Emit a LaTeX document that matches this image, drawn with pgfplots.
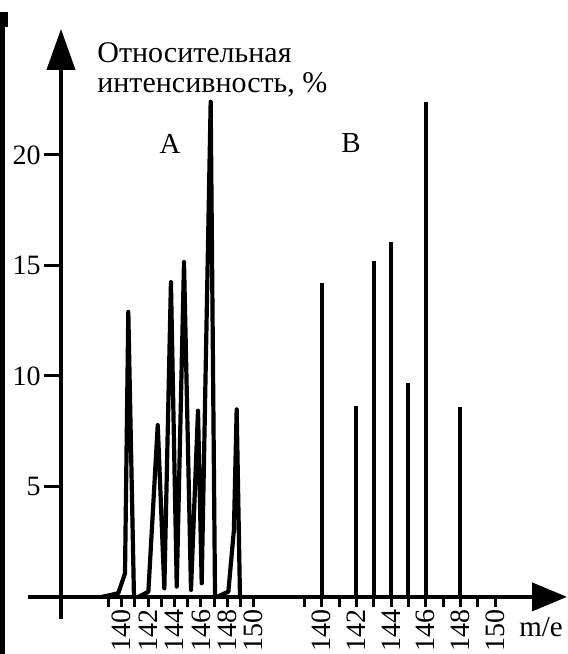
\documentclass[border=0pt]{standalone}
\usepackage{fontspec}
\setmainfont{Liberation Serif}
\usepackage{pgfplots}
\pgfplotsset{compat=1.18}
\usetikzlibrary{arrows.meta}
\begin{document}
\begin{tikzpicture}
\useasboundingbox (0,0) rectangle (284pt,327pt);
% scanned page edge
\fill[black] (0,0) rectangle (2.5pt,321pt);
\fill[black] (0,313.5pt) rectangle (4pt,321pt);
% frame axis: x in pixel units, y in percent
\begin{axis}[
  at={(30.5pt,17.5pt)}, anchor=south west,
  x=0.5pt, y=11.05pt,
  xmin=61, xmax=567, ymin=-1, ymax=25.7,
  axis x line=middle, axis y line=left,
  axis line style={line width=2pt, black},
  x axis line style={shorten <=-16.5pt, -{Triangle[length=17.5pt,width=14pt]}},
  y axis line style={-{Triangle[length=20.5pt,width=14pt]}},
  xtick=\empty,
  ytick={5,10,15,20},
  tick align=outside,
  major tick length=8.5pt,
  tick style={line width=1.5pt, black},
  yticklabel style={font=\fontsize{14}{15}\selectfont, inner sep=1.5pt},
  /pgf/number format/assume math mode=true,
  clip=false,
]
\node[anchor=base west, inner sep=0pt, font=\fontsize{15}{16}\selectfont] at (axis cs:97,24.16) {Относительная};
\node[anchor=base west, inner sep=0pt, font=\fontsize{15}{16}\selectfont] at (axis cs:97,22.81) {интенсивность, \%};
\node[inner sep=0pt, font=\fontsize{14.5}{15}\selectfont] at (axis cs:170,20.5) {A};
\node[inner sep=0pt, font=\fontsize{14.5}{15}\selectfont] at (axis cs:351,20.52) {B};
\node[anchor=base, inner sep=0pt, font=\fontsize{14.5}{15}\selectfont] at (axis cs:541,-1.81) {m/e};
\end{axis}
% spectrum A
\begin{axis}[
  at={(47.65pt,28.5pt)}, anchor=south west,
  x=6.6pt, y=11.05pt,
  xmin=138, xmax=150, ymin=0, ymax=25,
  axis x line=bottom, axis y line=none,
  x axis line style={draw=none},
  xtick={140,142,...,150}, minor xtick={139,141,...,149},
  tick align=outside, major tick length=5pt, minor tick length=5pt,
  tick style={line width=1.5pt, black},
  xticklabel style={rotate=90, anchor=east, font=\fontsize{14}{15}\selectfont, inner sep=1pt},
  /pgf/number format/assume math mode=true,
  /pgf/number format/1000 sep={},
  clip=false,
]
\addplot[black, line width=2.1pt, line join=round, no marks] coordinates {
  (138.48,0) (139.74,0.17) (140.25,1.07) (140.5,12.9) (140.93,0)};
\addplot[black, line width=2.1pt, line join=round, no marks] coordinates {
  (141.26,0) (142.02,0.24) (142.73,7.78) (143.23,0.39) (143.73,14.25)
  (144.17,0.47) (144.72,15.16) (145.25,0.32) (145.78,8.43) (146.06,0.62)
  (146.74,22.41) (147.07,0)};
\addplot[black, line width=2.1pt, line join=round, no marks] coordinates {
  (147.2,0) (148.08,0.24) (148.5,3.03) (148.71,8.49) (148.96,0)};
\end{axis}
% spectrum B
\begin{axis}[
  at={(152.2pt,28.5pt)}, anchor=south west,
  x=8.665pt, y=11.05pt,
  xmin=139, xmax=150, ymin=0, ymax=25,
  axis x line=bottom, axis y line=none,
  x axis line style={draw=none},
  xtick={140,142,...,150}, minor xtick={139,141,...,149},
  tick align=outside, major tick length=5pt, minor tick length=5pt,
  tick style={line width=1.5pt, black},
  xticklabel style={rotate=90, anchor=east, font=\fontsize{14}{15}\selectfont, inner sep=1pt},
  /pgf/number format/assume math mode=true,
  /pgf/number format/1000 sep={},
  clip=false,
]
\addplot[black, ycomb, no marks, line width=2pt] coordinates {
  (140,14.19) (142,8.64) (143,15.2) (144,16.06) (145,9.67) (146,22.41) (148,8.61)};
\end{axis}
\end{tikzpicture}
\end{document}
